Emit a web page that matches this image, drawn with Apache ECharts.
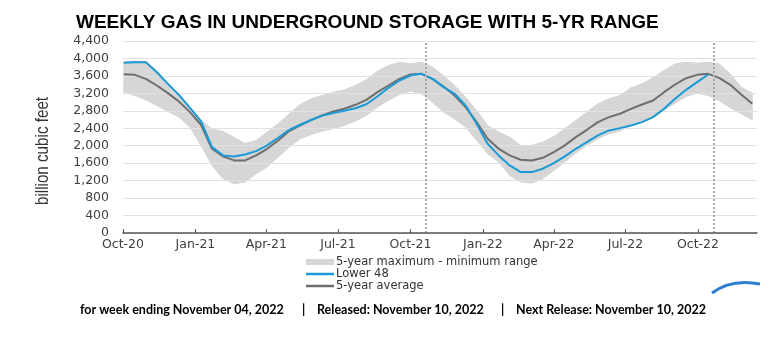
<!DOCTYPE html>
<html>
<head>
<meta charset="utf-8">
<script src="https://cdn.jsdelivr.net/npm/echarts@6/dist/echarts.min.js"></script>
<style>html,body{margin:0;padding:0;background:#fff}#c{width:775px;height:343px}</style>
</head>
<body>
<div id="c"></div>
<script>
// ---- data ----
const dates = ['2020-10-02','2020-10-16','2020-10-30','2020-11-13','2020-11-27','2020-12-11','2020-12-25',
'2021-01-08','2021-01-22','2021-02-05','2021-02-19','2021-03-05','2021-03-19','2021-04-02','2021-04-16','2021-04-30','2021-05-14','2021-05-28','2021-06-11','2021-06-25','2021-07-09','2021-07-23','2021-08-06','2021-08-20','2021-09-03','2021-09-17','2021-10-01','2021-10-15','2021-10-29','2021-11-12','2021-11-26','2021-12-10','2021-12-24',
'2022-01-07','2022-01-21','2022-02-04','2022-02-18','2022-03-04','2022-03-18','2022-04-01','2022-04-15','2022-04-29','2022-05-13','2022-05-27','2022-06-10','2022-06-24','2022-07-08','2022-07-22','2022-08-05','2022-08-19','2022-09-02','2022-09-16','2022-09-30','2022-10-14','2022-10-28','2022-11-11','2022-11-25','2022-12-09'];

const lower48 = [3899,3914,3914,3685,3418,3166,2869,2564,1969,1778,1755,1800,1877,2007,2182,2365,2480,2590,2690,2750,2800,2860,2950,3128,3327,3495,3609,3647,3533,3342,3190,2922,2503,2045,1778,1549,1396,1396,1473,1602,1755,1930,2083,2236,2350,2403,2465,2541,2655,2846,3075,3281,3456,3632];

const avg5 = [3640,3624,3533,3380,3205,3014,2770,2480,1930,1755,1663,1663,1778,1930,2121,2335,2465,2594,2693,2785,2846,2938,3052,3227,3380,3533,3632,3647,3533,3357,3151,2884,2541,2159,1930,1778,1679,1663,1724,1854,2007,2197,2365,2541,2655,2732,2846,2945,3037,3227,3403,3548,3624,3647,3556,3395,3174,2960];

const max5 = [3930,3940,3935,3710,3440,3185,2890,2590,2380,2330,2190,2050,2121,2312,2503,2731,2945,3075,3151,3227,3281,3380,3510,3708,3838,3914,3876,3914,3800,3609,3380,3113,2808,2465,2312,2197,2007,2007,2083,2213,2388,2579,2770,2960,3075,3151,3327,3418,3556,3723,3876,3914,3891,3914,3876,3647,3342,3205];

const min5 = [3227,3151,3052,2922,2785,2655,2426,2007,1549,1244,1129,1167,1358,1511,1740,1969,2159,2258,2335,2388,2465,2564,2693,2884,3037,3174,3250,3190,2999,2770,2617,2426,2121,1816,1625,1320,1167,1145,1244,1434,1625,1831,2007,2159,2274,2335,2465,2541,2640,2808,2976,3128,3205,3151,3037,2869,2732,2594];

const tickDates = ['2020-10-01','2021-01-01','2021-04-01','2021-07-01','2021-10-01','2022-01-01','2022-04-01','2022-07-01','2022-10-01'];
const tickLabels = ['Oct-20','Jan-21','Apr-21','Jul-21','Oct-21','Jan-22','Apr-22','Jul-22','Oct-22'];
const markDates = ['2021-10-21','2022-10-21'];
const axisStart = '2020-10-01';
const axisEnd = '2022-12-15';
const yMin = 0, yMax = 4400, yStep = 400;

const titleText = 'WEEKLY GAS IN UNDERGROUND STORAGE WITH 5-YR RANGE';
const yName = 'billion cubic feet';
const nameBand = '5-year maximum - minimum range';
const nameLower = 'Lower 48';
const nameAvg = '5-year average';
const footer = ['for week ending November 04, 2022', '|', 'Released: November 10, 2022', '|', 'Next Release: November 10, 2022'];

// ---- build ----
const toTs = s => new Date(s + 'T00:00:00').getTime();
const tickTs = tickDates.map(toTs);
const labelOf = {};
tickTs.forEach((t, i) => { labelOf[t] = tickLabels[i]; });
const withComma = v => String(v).replace(/\B(?=(\d{3})+(?!\d))/g, ',');

const AX = "'DejaVu Sans', sans-serif";
const BAND = '#d6d6d6', BLUE = '#1a9ad6', GREY = '#6e6e6e';
const chart = echarts.init(document.getElementById('c'), null, {renderer: 'canvas'});
const legendBase = {orient: 'horizontal', padding: 0, itemWidth: 28, itemGap: 0, selectedMode: false,
  textStyle: {fontFamily: AX, fontSize: 11.5, color: '#333', padding: [0, 0, 0, -3]}};

chart.setOption({
  animation: false,
  backgroundColor: '#fff',
  title: {text: titleText, left: 71, top: 8,
    textStyle: {fontFamily: "'Liberation Sans', Arial, sans-serif", fontWeight: 'bold', fontSize: 19, color: '#000'}},
  grid: {left: 123, right: 18, top: 41, bottom: 110, containLabel: false},
  legend: [
    Object.assign({}, legendBase, {left: 306, top: 256, itemHeight: 6,
      data: [{name: nameBand, icon: 'rect', itemStyle: {color: BAND}}]}),
    Object.assign({}, legendBase, {left: 306, top: 268, itemHeight: 2.5,
      data: [{name: nameLower, icon: 'rect', itemStyle: {color: BLUE}}]}),
    Object.assign({}, legendBase, {left: 306, top: 280, itemHeight: 2.5,
      data: [{name: nameAvg, icon: 'rect', itemStyle: {color: GREY}}]})
  ],
  xAxis: {
    type: 'value', min: toTs(axisStart), max: toTs(axisEnd), z: 5,
    axisLine: {lineStyle: {color: '#555', width: 1.5}},
    axisTick: {show: true, inside: true, length: 4, customValues: tickTs, lineStyle: {color: '#555'}},
    axisLabel: {customValues: tickTs, formatter: v => labelOf[v] || '', margin: 5,
      fontFamily: AX, fontSize: 12.5, color: '#404040'},
    splitLine: {show: false}
  },
  yAxis: {
    type: 'value', min: yMin, max: yMax, interval: yStep, z: 2,
    axisLine: {show: false}, axisTick: {show: false},
    axisLabel: {formatter: withComma, margin: 14, fontFamily: AX, fontSize: 12.5, color: '#404040'},
    splitLine: {lineStyle: {color: '#e1e1e1', width: 1}}
  },
  series: [
    {name: nameBand, type: 'custom', silent: true, z: 1, itemStyle: {color: BAND},
      data: dates.map((d, i) => [toTs(d), min5[i], max5[i]]),
      renderItem: function (params, api) {
        if (params.dataIndex !== 0) return null;
        const top = dates.map((d, i) => api.coord([toTs(d), max5[i]]));
        const bot = dates.map((d, i) => api.coord([toTs(d), min5[i]])).reverse();
        return {type: 'polygon', shape: {points: top.concat(bot)}, style: {fill: BAND, stroke: BAND, lineWidth: 1}};
      }},
    {name: nameAvg, type: 'line', symbol: 'none', z: 3,
      lineStyle: {color: GREY, width: 2}, itemStyle: {color: GREY},
      data: dates.map((d, i) => [toTs(d), avg5[i]]),
      markLine: {silent: true, symbol: 'none', label: {show: false},
        lineStyle: {type: 'dotted', color: '#a8a8a8', width: 2},
        data: markDates.map(d => ({xAxis: toTs(d)}))}},
    {name: nameLower, type: 'line', symbol: 'none', z: 4,
      lineStyle: {color: BLUE, width: 2}, itemStyle: {color: BLUE},
      data: lower48.map((v, i) => [toTs(dates[i]), v])}
  ],
  graphic: [
    {type: 'text', x: 43, y: 151, rotation: Math.PI / 2, scaleX: 0.8,
      style: {text: yName, fill: '#333', font: "19px 'Liberation Sans', Arial, sans-serif",
        align: 'center', verticalAlign: 'middle'}},
    {type: 'text', x: 80, y: 310, style: {text: footer[0], fill: '#000', font: "bold 12.5px Lato, sans-serif", verticalAlign: 'middle'}},
    {type: 'text', x: 302, y: 310, style: {text: footer[1], fill: '#000', font: "bold 12.5px Lato, sans-serif", verticalAlign: 'middle'}},
    {type: 'text', x: 317, y: 310, style: {text: footer[2], fill: '#000', font: "bold 12.5px Lato, sans-serif", verticalAlign: 'middle'}},
    {type: 'text', x: 501, y: 310, style: {text: footer[3], fill: '#000', font: "bold 12.5px Lato, sans-serif", verticalAlign: 'middle'}},
    {type: 'text', x: 516, y: 310, style: {text: footer[4], fill: '#000', font: "bold 12.5px Lato, sans-serif", verticalAlign: 'middle'}},
    {type: 'bezierCurve', shape: {x1: 712, y1: 293, x2: 760, y2: 284, cpx1: 728, cpy1: 281, cpx2: 745, cpy2: 281},
      style: {stroke: '#2f7fd0', lineWidth: 3, fill: null}}
  ]
});
</script>
</body>
</html>
